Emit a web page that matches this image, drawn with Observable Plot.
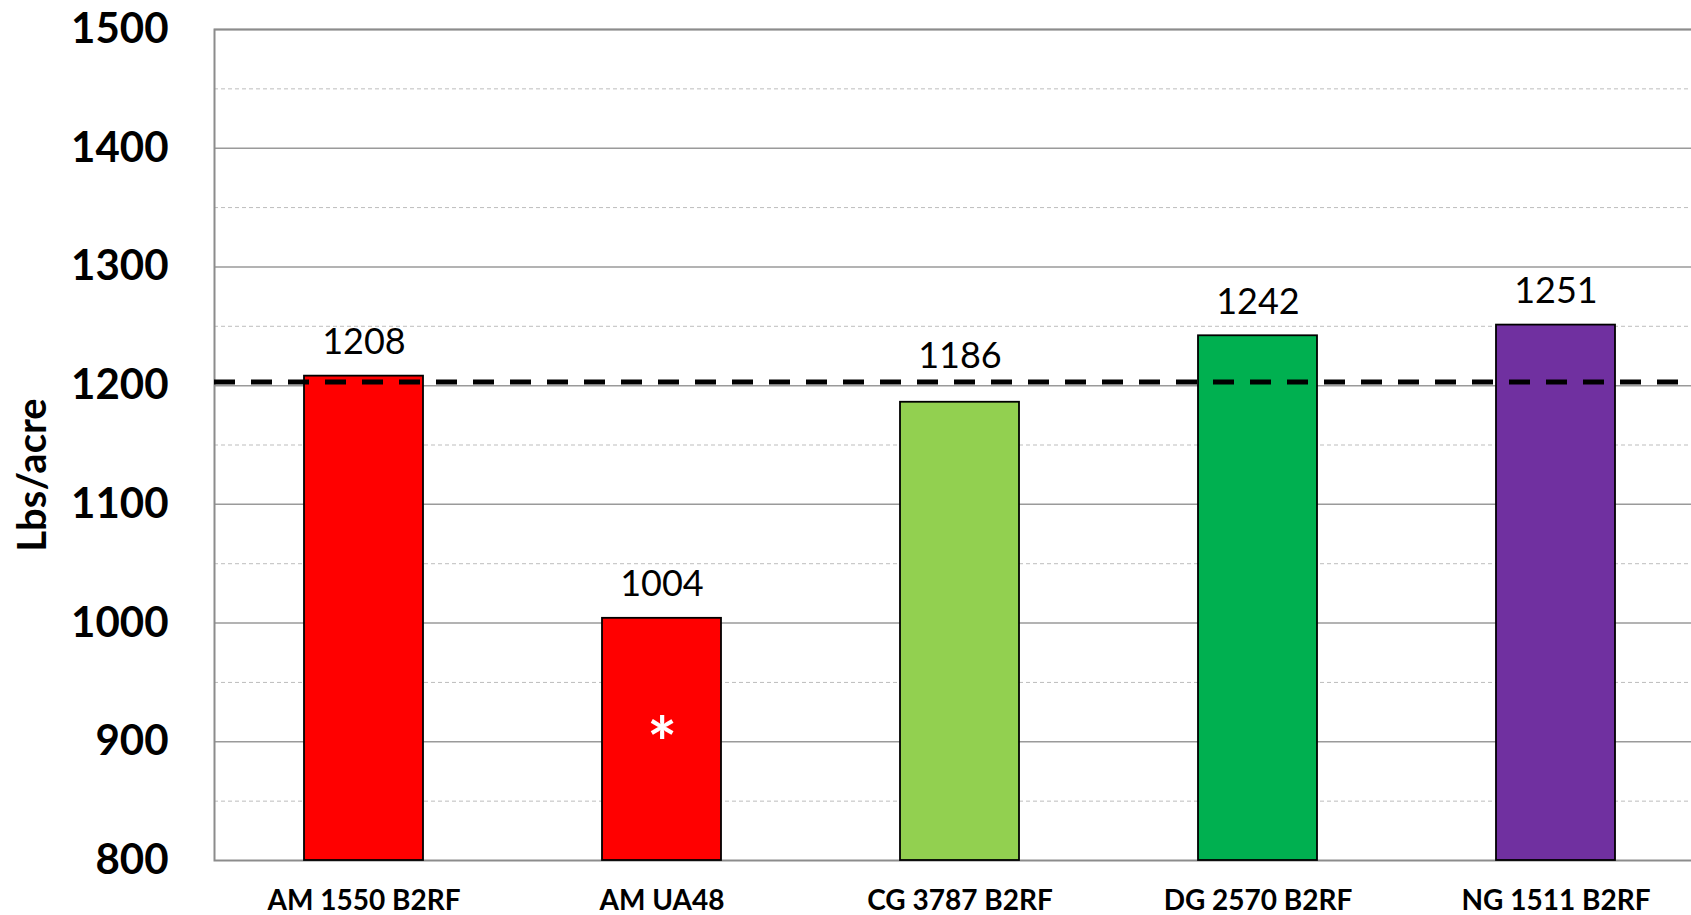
<!DOCTYPE html>
<html>
<head>
<meta charset="utf-8">
<script src="https://cdn.jsdelivr.net/npm/d3@7"></script>
<script src="https://cdn.jsdelivr.net/npm/@observablehq/plot@0.6"></script>
<style>
  html, body { margin: 0; padding: 0; background: #fff; overflow: hidden; }
  #chart { position: relative; width: 1691px; height: 915px; }
</style>
</head>
<body>
<div id="chart"></div>
<script>
const categories = ["AM 1550 B2RF", "AM UA48", "CG 3787 B2RF", "DG 2570 B2RF", "NG 1511 B2RF"];
const yields = [1208, 1004, 1186, 1242, 1251];
const barColors = ["#FF0000", "#FF0000", "#92D050", "#00B050", "#7030A0"];
const markers = ["", "*", "", "", ""];
const averageYield = [1203];
const yTicks = [800, 900, 1000, 1100, 1200, 1300, 1400, 1500];
const yMinorTicks = [850, 950, 1050, 1150, 1250, 1350, 1450];
const yTitle = "Lbs/acre";

const avg = averageYield[0];
const data = categories.map((c, i) => ({cat: c, value: yields[i], color: barColors[i], marker: markers[i]}));
// labels of bars just below the average line are lifted above the line
const nearLine = d => d.value < avg && avg - d.value < 40;

const chart = Plot.plot({
  width: 1691,
  height: 915,
  marginLeft: 214,
  marginRight: -15,
  marginTop: 29,
  marginBottom: 55,
  style: {fontFamily: "Lato, 'Open Sans', sans-serif", background: "#fff", color: "#000", overflow: "visible"},
  x: {domain: categories, paddingInner: 0.6, paddingOuter: 0.3, axis: null},
  y: {domain: [800, 1500], axis: null},
  marks: [
    Plot.ruleY(yMinorTicks, {stroke: "#bdbdbd", strokeWidth: 1, strokeDasharray: "4,3"}),
    Plot.ruleY(yTicks.filter(d => d > 800), {stroke: "#9a9a9a", strokeWidth: 1.5}),
    Plot.frame({stroke: "#8c8c8c", strokeWidth: 2}),
    Plot.barY(data, {x: "cat", y1: 800, y2: "value", fill: "color", stroke: "#000", strokeWidth: 1.8}),
    Plot.ruleY(averageYield, {stroke: "#000", strokeWidth: 5, strokeDasharray: "21,16"}),
    Plot.text(data.filter(d => !nearLine(d)), {x: "cat", y: "value", text: d => String(d.value), lineAnchor: "bottom", dy: -22, fontSize: 36, fill: "#000"}),
    Plot.text(data.filter(nearLine), {x: "cat", y: () => avg, text: d => String(d.value), lineAnchor: "bottom", dy: -14, fontSize: 36, fill: "#000"}),
    Plot.text(data.filter(d => d.marker), {x: "cat", text: "marker", frameAnchor: "bottom", dy: -92, fontSize: 70, fontWeight: "bold", fill: "#fff"}),
    Plot.text(yTicks, {y: d => d, text: d => String(d), frameAnchor: "left", dx: -46, textAnchor: "end", fontSize: 42, fontWeight: "bold", fill: "#000"}),
    Plot.text(categories, {x: d => d, text: d => d, frameAnchor: "bottom", dy: 49, fontSize: 28, fontWeight: "bold", fill: "#000"}),
    Plot.text([yTitle], {frameAnchor: "left", dx: -181, dy: 30, rotate: -90, textAnchor: "middle", text: d => d, fontSize: 40, fontWeight: "bold", fill: "#000"})
  ]
});
document.getElementById("chart").appendChild(chart);
</script>
</body>
</html>
